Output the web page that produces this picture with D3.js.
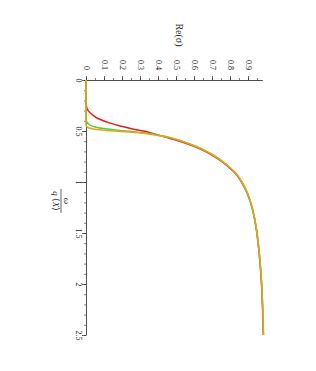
<!DOCTYPE html>
<html>
<head>
<meta charset="utf-8">
<script src="https://cdn.jsdelivr.net/npm/d3@7"></script>
<style>
  body { margin: 0; background: #fff; }
  svg text { font-family: "Liberation Serif", "DejaVu Serif", serif; fill: #222; }
</style>
</head>
<body>
<div id="chart"></div>
<script>
// frequency omega / (q <X>) and Re(sigma) for each curve
var omegaRed = [0, 0.2, 0.26, 0.3, 0.34, 0.38, 0.42, 0.45, 0.48, 0.5, 0.53, 0.56, 0.6, 0.65, 0.7, 0.75, 0.8, 0.85, 0.9, 0.95, 1.0, 1.1, 1.2, 1.3, 1.45, 1.6, 1.8, 2.0, 2.25, 2.5];
var reRed =    [0, 0, 0.003, 0.012, 0.035, 0.07, 0.13, 0.19, 0.26, 0.32, 0.38, 0.44, 0.52, 0.6, 0.662, 0.713, 0.755, 0.79, 0.821, 0.845, 0.864, 0.893, 0.914, 0.929, 0.945, 0.956, 0.967, 0.975, 0.981, 0.985];

var omegaGreen = [0, 0.38, 0.41, 0.44, 0.46, 0.48, 0.5, 0.52, 0.55, 0.6, 0.65, 0.7, 0.75, 0.8, 0.85, 0.9, 0.95, 1.0, 1.1, 1.2, 1.3, 1.45, 1.6, 1.8, 2.0, 2.25, 2.5];
var reGreen =    [0, 0, 0.005, 0.02, 0.05, 0.12, 0.22, 0.33, 0.43, 0.532, 0.608, 0.668, 0.718, 0.759, 0.794, 0.824, 0.848, 0.866, 0.895, 0.915, 0.93, 0.946, 0.957, 0.968, 0.976, 0.982, 0.986];

var omegaOrange = [0, 0.44, 0.46, 0.48, 0.5, 0.51, 0.53, 0.56, 0.6, 0.65, 0.7, 0.75, 0.8, 0.85, 0.9, 0.95, 1.0, 1.1, 1.2, 1.3, 1.45, 1.6, 1.8, 2.0, 2.25, 2.5];
var reOrange =    [0, 0, 0.006, 0.04, 0.16, 0.24, 0.35, 0.45, 0.535, 0.61, 0.67, 0.72, 0.76, 0.795, 0.825, 0.848, 0.866, 0.895, 0.915, 0.93, 0.946, 0.957, 0.968, 0.976, 0.982, 0.986];

var reTicks = [0, 0.1, 0.2, 0.3, 0.4, 0.5, 0.6, 0.7, 0.8, 0.9];
var omegaTicks = [0, 0.5, 1, 1.5, 2, 2.5];

var series = [
    {omega: omegaRed, re: reRed, color: '#f01818'},
    {omega: omegaGreen, re: reGreen, color: '#62c83c'},
    {omega: omegaOrange, re: reOrange, color: '#dca61e'}
];

var width = 316, height = 371;

var svg = d3.select('#chart').append('svg')
    .attr('width', width)
    .attr('height', height);

// Re(sigma) runs left to right, omega runs top to bottom (plot is turned 90deg)
var x = d3.scaleLinear().domain([0, 0.98]).range([86, 262.4]);
var y = d3.scaleLinear().domain([0, 2.5]).range([80, 335]);

var fmt = d3.format('~g');

// minor ticks first
var xMinor = d3.range(0, 0.96, 0.05);
var yMinor = d3.range(0, 2.51, 0.1);

svg.append('g')
    .attr('transform', 'translate(0,80)')
    .call(d3.axisTop(x).tickValues(xMinor).tickSize(2).tickFormat(''))
    .call(g => g.select('.domain').remove())
    .selectAll('line').attr('stroke', '#333').attr('stroke-width', 0.6);

svg.append('g')
    .attr('transform', 'translate(86,0)')
    .call(d3.axisLeft(y).tickValues(yMinor).tickSize(2).tickFormat(''))
    .call(g => g.select('.domain').remove())
    .selectAll('line').attr('stroke', '#333').attr('stroke-width', 0.6);

// top axis (Re sigma)
var xAxis = svg.append('g')
    .attr('transform', 'translate(0,80)')
    .call(d3.axisTop(x).tickValues(reTicks).tickFormat(fmt).tickSize(4).tickSizeOuter(0));
xAxis.select('.domain').attr('stroke', '#222').attr('stroke-width', 0.8);
xAxis.selectAll('line').attr('stroke', '#222').attr('stroke-width', 0.7);
xAxis.selectAll('text')
    .attr('transform', 'rotate(90)')
    .attr('x', -10)
    .attr('y', 0)
    .attr('dy', '0.32em')
    .style('text-anchor', 'end')
    .style('font-size', '8px');

// left axis (omega)
var yAxis = svg.append('g')
    .attr('transform', 'translate(86,0)')
    .call(d3.axisLeft(y).tickValues(omegaTicks).tickFormat(fmt).tickSize(4).tickSizeOuter(0));
yAxis.select('.domain').attr('stroke', '#222').attr('stroke-width', 0.8);
yAxis.selectAll('line').attr('stroke', '#222').attr('stroke-width', 0.7);
yAxis.selectAll('text')
    .attr('transform', 'rotate(90)')
    .attr('x', 0)
    .attr('y', 10)
    .attr('dy', 0)
    .style('text-anchor', 'middle')
    .style('font-size', '8px');

// curves
var line = d3.line()
    .x(d => x(d[1]))
    .y(d => y(d[0]))
    .curve(d3.curveMonotoneY);

series.forEach(function (s) {
    var pts = s.omega.map((w, i) => [w, s.re[i]]);
    svg.append('path')
        .datum(pts)
        .attr('fill', 'none')
        .attr('stroke', s.color)
        .attr('stroke-width', 1.5)
        .attr('d', line);
});

// axis titles
svg.append('text')
    .attr('transform', 'translate(175,35) rotate(90)')
    .style('text-anchor', 'middle')
    .attr('dy', '-0.1em')
    .style('font-size', '10px')
    .text('Re(σ)');

var frac = svg.append('g').attr('transform', 'translate(61,201) rotate(90)');
frac.append('line')
    .attr('x1', -12).attr('x2', 12)
    .attr('y1', 0).attr('y2', 0)
    .attr('stroke', '#222').attr('stroke-width', 0.7);
frac.append('text')
    .attr('x', 0).attr('y', -2.5)
    .style('text-anchor', 'middle')
    .style('font-size', '9px')
    .style('font-style', 'italic')
    .text('ω');
frac.append('text')
    .attr('x', 0).attr('y', 8.5)
    .style('text-anchor', 'middle')
    .style('font-size', '9px')
    .html('<tspan font-style="italic">q</tspan> ⟨<tspan font-style="italic">X</tspan>⟩');
</script>
</body>
</html>
